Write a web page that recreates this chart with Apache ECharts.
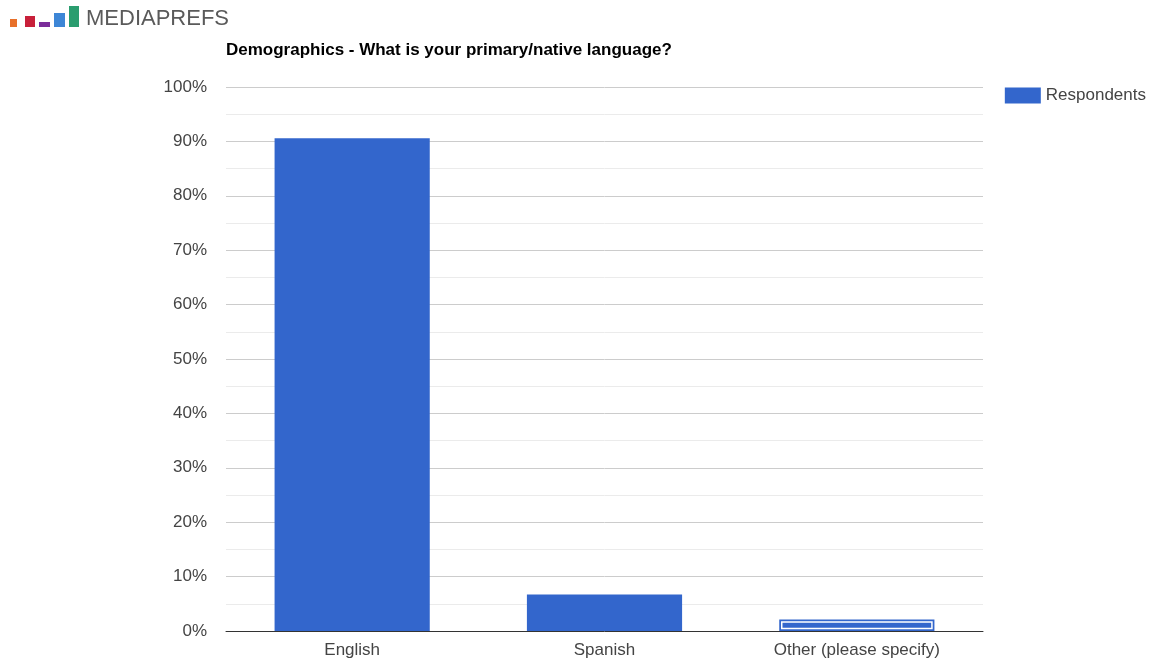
<!DOCTYPE html>
<html>
<head>
<meta charset="utf-8">
<script src="https://cdn.jsdelivr.net/npm/echarts@6/dist/echarts.min.js"></script>
<style>html,body{margin:0;padding:0;background:#fff;}#c{width:1152px;height:662px;}</style>
</head>
<body>
<div id="c"></div>
<script>
const categories = ['English', 'Spanish', 'Other (please specify)'];
const respondents = [90.6, 6.7, 2.1];
const highlighted = [2];
const yTicks = { min: 0, max: 100, interval: 10 };

const chart = echarts.init(document.getElementById('c'));
const font = '"Liberation Sans", Arial, sans-serif';
chart.setOption({
  animation: false,
  textStyle: { fontFamily: font },
  title: {
    text: 'Demographics - What is your primary/native language?',
    left: 221, top: 37,
    textStyle: { fontSize: 17, fontWeight: 'bold', color: '#000', fontFamily: font }
  },
  graphic: [
    { type: 'rect', shape: { x: 10, y: 19, width: 7, height: 8 }, style: { fill: '#e8702a' } },
    { type: 'rect', shape: { x: 25, y: 16, width: 10, height: 11 }, style: { fill: '#c8203a' } },
    { type: 'rect', shape: { x: 39, y: 22, width: 11, height: 5 }, style: { fill: '#7b2d9a' } },
    { type: 'rect', shape: { x: 54, y: 13, width: 11, height: 14 }, style: { fill: '#3d86d6' } },
    { type: 'rect', shape: { x: 69, y: 6, width: 10, height: 21 }, style: { fill: '#2a9d6f' } },
    { type: 'text', left: 86, top: 8, style: { text: 'MEDIAPREFS', fontSize: 22, fontFamily: font, fontWeight: 'normal', fill: '#5a5a5a' } }
  ],
  legend: {
    right: 1, top: 82,
    itemWidth: 36, itemHeight: 16, itemGap: 8,
    icon: 'rect',
    textStyle: { fontSize: 17, color: '#444', fontFamily: font },
    data: ['Respondents']
  },
  grid: { left: 226, right: 169, top: 87, bottom: 31, containLabel: false },
  xAxis: {
    type: 'category',
    data: categories,
    axisTick: { show: false },
    axisLine: { lineStyle: { color: '#333', width: 1 } },
    axisLabel: { fontSize: 17, color: '#444', margin: 11, fontFamily: font }
  },
  yAxis: {
    type: 'value',
    min: yTicks.min, max: yTicks.max, interval: yTicks.interval,
    axisLine: { show: false },
    axisTick: { show: false },
    axisLabel: { formatter: '{value}%', fontSize: 17, color: '#444', margin: 19, fontFamily: font },
    splitLine: { lineStyle: { color: '#cccccc' } },
    minorTick: { show: false, splitNumber: 2 },
    minorSplitLine: { show: true, lineStyle: { color: '#ebebeb' } }
  },
  series: [
    {
      name: 'Respondents',
      type: 'bar',
      data: respondents,
      barCategoryGap: '38.5%',
      itemStyle: { color: '#3366cc' }
    },
    {
      name: 'highlight',
      type: 'custom',
      silent: true,
      z: 5,
      data: respondents.map((v, i) => highlighted.includes(i) ? [i, v] : [i, null]),
      renderItem: function (params, api) {
        const v = api.value(1);
        if (v == null || isNaN(v)) return null;
        const top = api.coord([api.value(0), v]);
        const base = api.coord([api.value(0), 0]);
        const w = api.size([1, 0])[0] * 0.615;
        const inset = 2.5;
        return {
          type: 'rect',
          shape: { x: top[0] - w / 2 + inset, y: top[1] + inset, width: w - 2 * inset, height: base[1] - top[1] - 2 * inset },
          style: { fill: 'none', stroke: '#ffffff', lineWidth: 1.5 }
        };
      }
    }
  ]
});
</script>
</body>
</html>
